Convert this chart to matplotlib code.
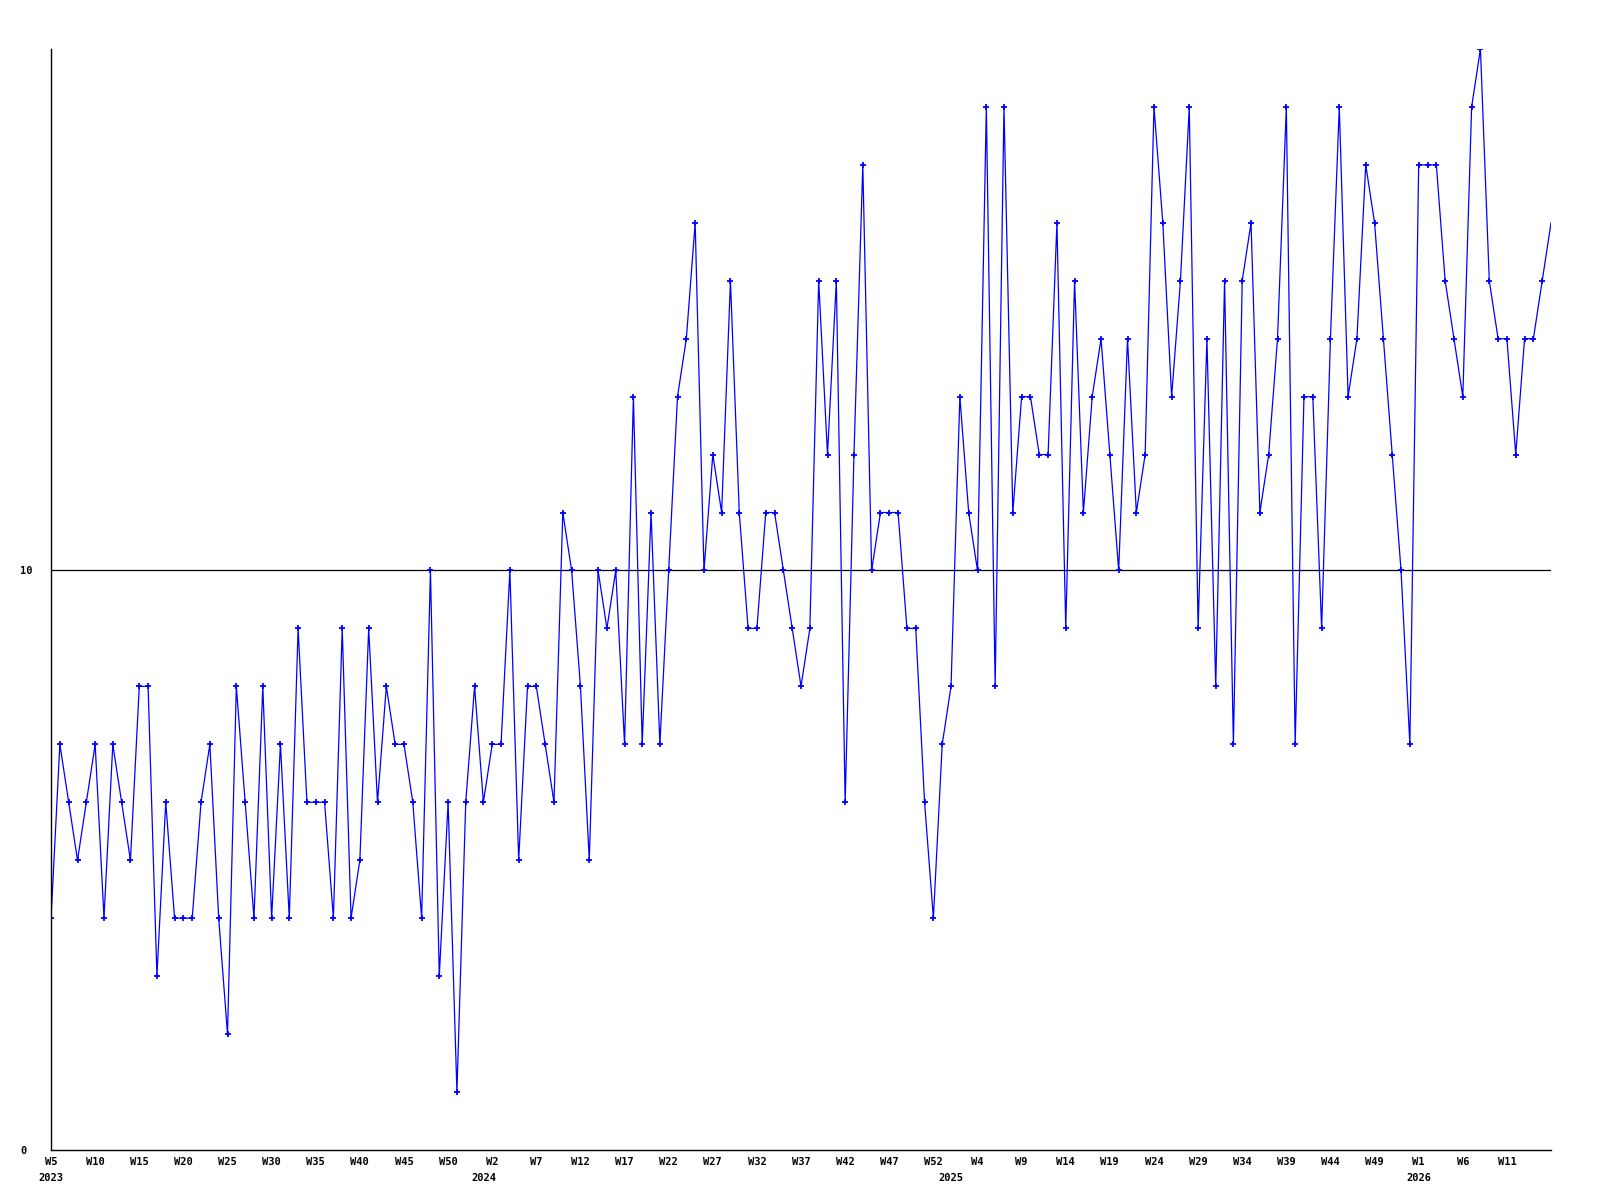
import matplotlib
matplotlib.use('Agg')
import matplotlib.pyplot as plt

# weekly values, 2023 W5 .. 2026 W16 (years counted with 53 week slots)
values = [4, 7, 6, 5, 6, 7, 4, 7, 6, 5,
          8, 8, 3, 6, 4, 4, 4, 6, 7, 4,
          2, 8, 6, 4, 8, 4, 7, 4, 9, 6,
          6, 6, 4, 9, 4, 5, 9, 6, 8, 7,
          7, 6, 4, 10, 3, 6, 1, 6, 8, 6,
          7, 7, 10, 5, 8, 8, 7, 6, 11, 10,
          8, 5, 10, 9, 10, 7, 13, 7, 11, 7,
          10, 13, 14, 16, 10, 12, 11, 15, 11, 9,
          9, 11, 11, 10, 9, 8, 9, 15, 12, 15,
          6, 12, 17, 10, 11, 11, 11, 9, 9, 6,
          4, 7, 8, 13, 11, 10, 18, 8, 18, 11,
          13, 13, 12, 12, 16, 9, 15, 11, 13, 14,
          12, 10, 14, 11, 12, 18, 16, 13, 15, 18,
          9, 14, 8, 15, 7, 15, 16, 11, 12, 14,
          18, 7, 13, 13, 9, 14, 18, 13, 14, 17,
          16, 14, 12, 10, 7, 17, 17, 17, 15, 14,
          13, 18, 19, 15, 14, 14, 12, 14, 14, 15, 16]

years = [2023, 2024, 2025, 2026]
first_week = [5, 1, 1, 1]
last_week = [53, 53, 53, 16]
y_ticks = [0, 10]

# build week labels for each point
week_labels = []
year_pos = []
for yr, w0, w1 in zip(years, first_week, last_week):
    year_pos.append(len(week_labels))
    for w in range(w0, w1 + 1):
        week_labels.append('W{}'.format(w))

x = list(range(len(values)))

fig = plt.figure(figsize=(16, 12), dpi=100)
ax = fig.add_axes([0.0319, 0.0417, 0.9375, 0.9175])

# last point sits on the right edge, drawn without a marker
ax.plot(x, values, color='#0000ff', linewidth=0.9, marker='+',
        markersize=4.2, markeredgewidth=1.3, markevery=slice(0, len(x) - 1))
ax.axhline(10, color='black', linewidth=0.9, zorder=0)

ax.set_xlim(0, len(values) - 1)
ax.set_ylim(0, 19)

for side in ['top', 'right']:
    ax.spines[side].set_visible(False)
for side in ['left', 'bottom']:
    ax.spines[side].set_linewidth(1.0)
    ax.spines[side].set_color('black')

font = dict(family='DejaVu Sans Mono', weight='bold', size=7.5)

ax.set_yticks(y_ticks)
ax.set_yticklabels([str(v) for v in y_ticks], **font)
ax.tick_params(axis='y', length=0, pad=22)
for lab in ax.get_yticklabels():
    lab.set_horizontalalignment('left')

ticks = x[:-1:5]
ax.set_xticks(ticks)
ax.set_xticklabels([week_labels[i] for i in ticks], **font)
ax.tick_params(axis='x', length=0, pad=5)

# year labels under first week of each year
for yr, p in zip(years, year_pos):
    ax.text(p, -0.021, str(yr), transform=ax.get_xaxis_transform(),
            ha='center', va='top', **font)

fig.savefig('out.png', dpi=100)
